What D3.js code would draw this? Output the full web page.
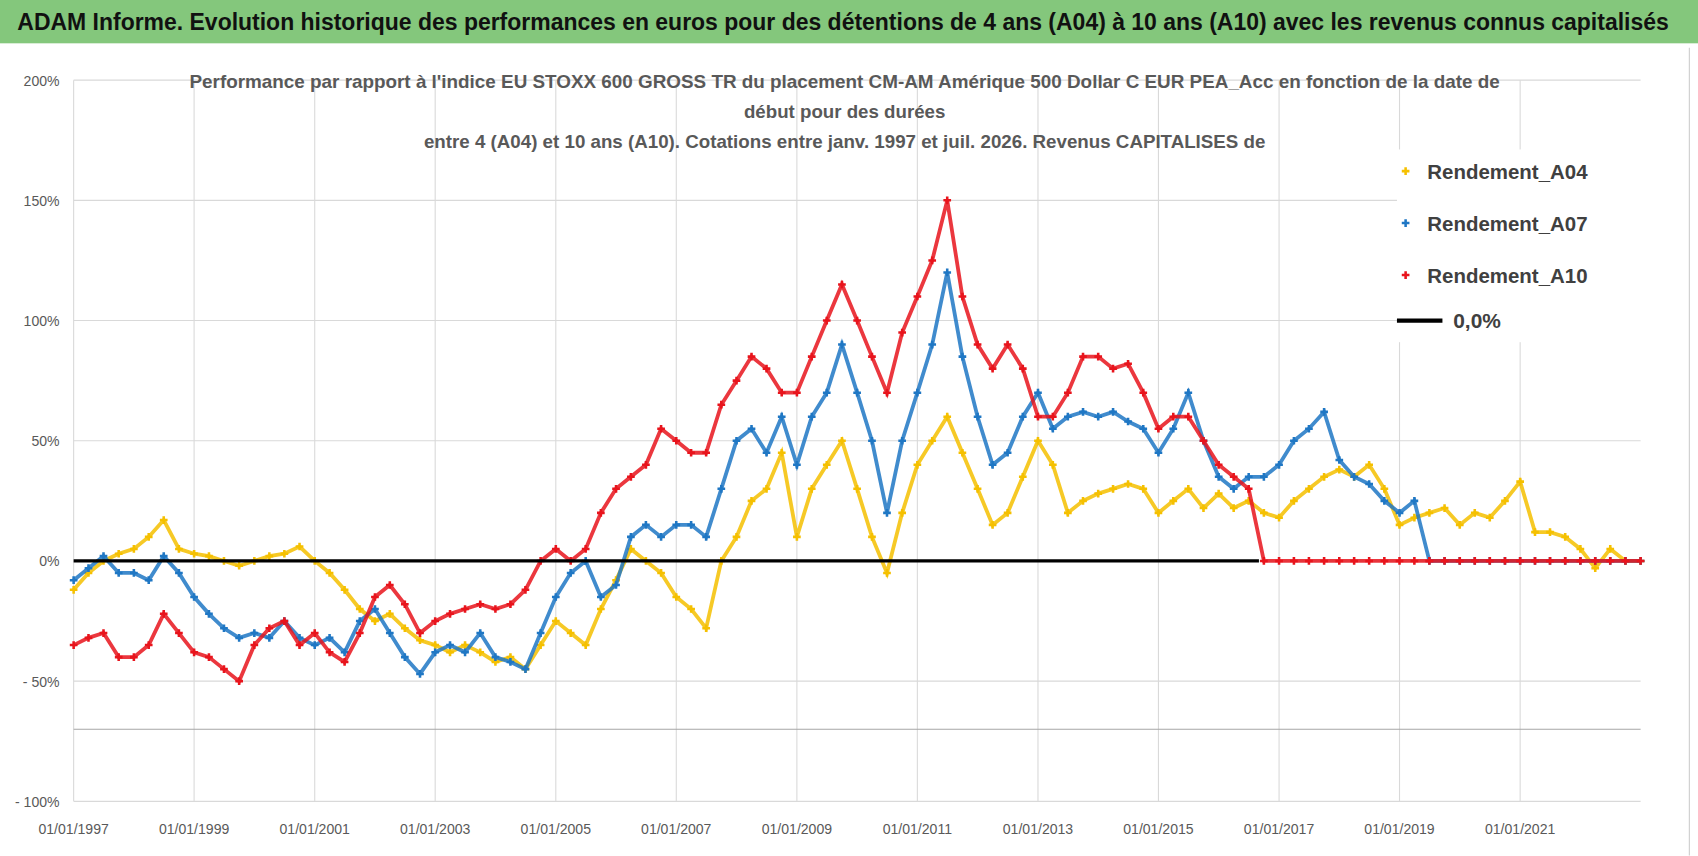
<!DOCTYPE html>
<html><head><meta charset="utf-8">
<script src="https://cdn.jsdelivr.net/npm/d3@7"></script>
<style>
body{margin:0;background:#fff;font-family:"Liberation Sans Narrow","Liberation Sans",sans-serif}
</style></head>
<body><div id="chart"></div>
<script>
// quarterly readings, first value = Q1 1997
var startYear = 1997;
var seriesNames = ["Rendement_A04", "Rendement_A07", "Rendement_A10"];
var seriesColors = ["#f5c000", "#1f77c4", "#e8141c"];
var a04 = [-12,-5,0,3, 5,10,17,5, 3,2,0,-2, 0,2,3,6, 0,-5,-12,-20, -25,-22,-28,-33, -35,-38,-35,-38,
  -42,-40,-45,-35, -25,-30,-35,-20, -8,5,0,-5, -15,-20,-28,0, 10,25,30,45, 10,30,40,50, 30,10,-5,20,
  40,50,60,45, 30,15,20,35, 50,40,20,25, 28,30,32,30, 20,25,30,22, 28,22,25,20, 18,25,30,35,
  38,35,40,30, 15,18,20,22, 15,20,18,25, 33,12,12,10, 5,-3,5,0, 0];
var a07 = [-8,-3,2,-5, -5,-8,2,-5, -15,-22,-28,-32, -30,-32,-25,-32, -35,-32,-38,-25, -20,-30,-40,-47,
  -38,-35,-38,-30, -40,-42,-45,-30, -15,-5,0,-15, -10,10,15,10, 15,15,10,30, 50,55,45,60, 40,60,70,90,
  70,50,20,50, 70,90,120,85, 60,40,45,60, 70,55,60,62, 60,62,58,55, 45,55,70,50, 35,30,35,35,
  40,50,55,62, 42,35,32,25, 20,25,0,0, 0,0,0,0, 0,0,0,0, 0,0,0,0, 0];
var a10 = [-35,-32,-30,-40, -40,-35,-22,-30, -38,-40,-45,-50, -35,-28,-25,-35, -30,-38,-42,-30,
  -15,-10,-18,-30, -25,-22,-20,-18, -20,-18,-12,0, 5,0,5,20, 30,35,40,55, 50,45,45,65, 75,85,80,70,
  70,85,100,115, 100,85,70,95, 110,125,150,110, 90,80,90,80, 60,60,70,85, 85,80,82,70, 55,60,60,50,
  40,35,30,0, 0,0,0,0, 0,0,0,0, 0,0,0,0, 0,0,0,0, 0,0,0,0, 0,0,0,0, 0];
var yTicks = [-100, -50, 0, 50, 100, 150, 200];
var titleText = "ADAM Informe. Evolution historique des performances en euros pour des détentions de 4 ans (A04) à 10 ans (A10) avec les revenus connus capitalisés";
var chartTitle = ["Performance par rapport à l'indice EU STOXX 600 GROSS TR  du placement CM-AM Amérique 500 Dollar C EUR PEA_Acc en fonction de la date de",
  "début pour des durées", "entre 4 (A04) et 10 ans (A10). Cotations entre janv. 1997 et juil. 2026. Revenus CAPITALISES de"];
var chartTitleWidths = [1210, 186, 777];

var W = 1698, H = 856, k0 = W / 1568;
var svg = d3.select("#chart").append("svg").attr("width", W).attr("height", H)
  .append("g").attr("transform", "scale(" + k0 + ")");

svg.append("rect").attr("x", 0).attr("y", 0).attr("width", 1568).attr("height", 40).attr("fill", "#84c77c");
svg.append("text").attr("x", 16).attr("y", 28).attr("textLength", 1525).attr("lengthAdjust", "spacingAndGlyphs")
  .attr("font-size", 22).attr("font-weight", "bold").attr("fill", "#111").text(titleText);
svg.append("line").attr("x1", 1560).attr("x2", 1560).attr("y1", 44).attr("y2", 790).attr("stroke", "#ccc");

var x = d3.scaleTime().domain([new Date(1997, 0, 1), new Date(2023, 0, 1)]).range([68, 1515]);
var y = d3.scaleLinear().domain([-100, 200]).range([740, 74]);

// grid
svg.append("g").selectAll("line").data(yTicks).enter().append("line")
  .attr("x1", 68).attr("x2", 1515).attr("y1", d => y(d)).attr("y2", d => y(d))
  .attr("stroke", "#d9d9d9");
var xTicks = d3.range(1997, 2023, 2).map(yr => new Date(yr, 0, 1));
svg.append("g").selectAll("line").data(xTicks).enter().append("line")
  .attr("x1", d => x(d)).attr("x2", d => x(d)).attr("y1", 74).attr("y2", 740)
  .attr("stroke", "#d9d9d9");
svg.append("line").attr("x1", 68).attr("x2", 1515).attr("y1", y(-70)).attr("y2", y(-70)).attr("stroke", "#a6a6a6");

svg.append("g").selectAll("text").data(yTicks).enter().append("text")
  .attr("x", 55).attr("y", d => y(d) + 5).attr("text-anchor", "end")
  .attr("font-size", 13).attr("fill", "#595959")
  .text(d => (d < 0 ? "- " + Math.abs(d) : d) + "%");
var fmt = d3.timeFormat("%d/%m/%Y");
svg.append("g").selectAll("text").data(xTicks).enter().append("text")
  .attr("x", d => x(d)).attr("y", 770).attr("text-anchor", "middle")
  .attr("font-size", 13).attr("fill", "#595959").text(d => fmt(d));

svg.append("g").selectAll("text").data(chartTitle).enter().append("text")
  .attr("x", 780).attr("y", (d, i) => 81 + i * 28).attr("text-anchor", "middle")
  .attr("textLength", (d, i) => chartTitleWidths[i]).attr("lengthAdjust", "spacingAndGlyphs")
  .attr("font-size", 17).attr("font-weight", "bold").attr("fill", "#595959").text(d => d);

function dateOf(i) {
  var yr = startYear + Math.floor(i / 4);
  return new Date(yr, (i % 4) * 3, 1);
}
var line = d3.line().x((d, i) => x(dateOf(i))).y(d => y(d));
var cross = d3.symbol().type(d3.symbolCross).size(28);

[a04, a07, a10].forEach(function (vals, k) {
  var g = svg.append("g");
  g.append("path").attr("d", line(vals)).attr("fill", "none")
    .attr("stroke", seriesColors[k]).attr("stroke-width", 3.5).attr("opacity", 0.85);
  g.selectAll("path.m").data(vals).enter().append("path").attr("class", "m")
    .attr("d", cross).attr("fill", seriesColors[k])
    .attr("transform", (d, i) => "translate(" + x(dateOf(i)) + "," + y(d) + ")");
});

// zero reference line (under the red tail)
svg.append("line").attr("x1", 68).attr("x2", x(new Date(2016, 8, 1))).attr("y1", y(0)).attr("y2", y(0))
  .attr("stroke", "#000").attr("stroke-width", 3);

// legend
var lg = svg.append("g");
lg.append("rect").attr("x", 1290).attr("y", 138).attr("width", 228).attr("height", 178).attr("fill", "#fff");
seriesNames.forEach(function (n, k) {
  var ly = 158 + k * 48;
  lg.append("path").attr("d", cross).attr("fill", seriesColors[k]).attr("transform", "translate(1298," + ly + ")");
  lg.append("text").attr("x", 1318).attr("y", ly + 7).attr("font-size", 19).attr("font-weight", "bold")
    .attr("textLength", 148).attr("lengthAdjust", "spacingAndGlyphs")
    .attr("fill", "#404040").text(n);
});
lg.append("line").attr("x1", 1290).attr("x2", 1332).attr("y1", 296).attr("y2", 296).attr("stroke", "#000").attr("stroke-width", 4);
lg.append("text").attr("x", 1342).attr("y", 303).attr("font-size", 19).attr("font-weight", "bold")
  .attr("textLength", 44).attr("lengthAdjust", "spacingAndGlyphs")
  .attr("fill", "#404040").text("0,0%");
</script></body></html>
